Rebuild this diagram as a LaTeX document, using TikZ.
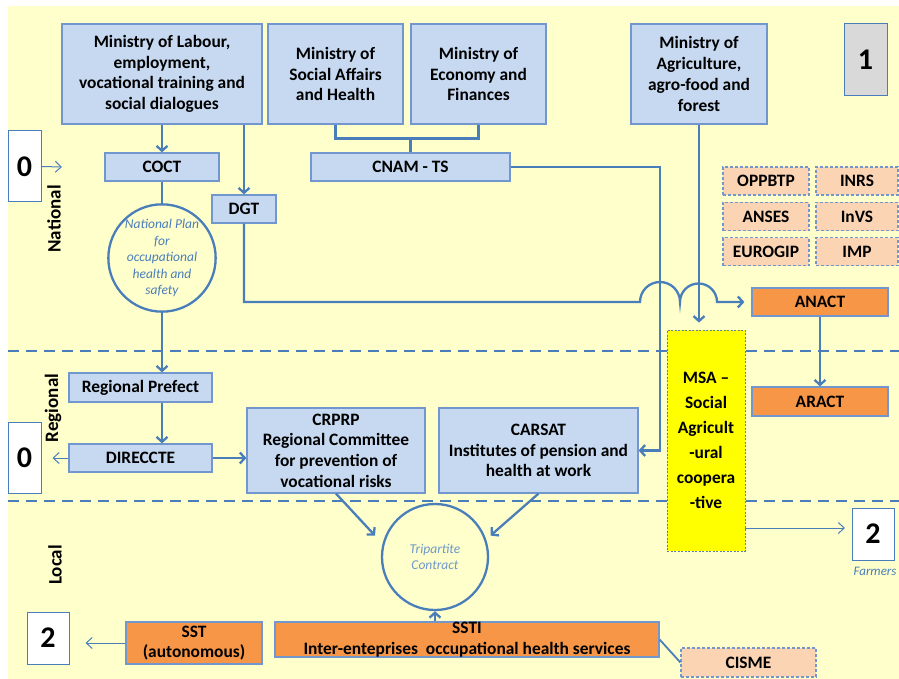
\documentclass[tikz,border=0pt]{standalone}
\usepackage{fontspec}
\setmainfont{Carlito}
\usetikzlibrary{arrows.meta,positioning,calc}
\definecolor{Paper}{HTML}{FFFFCC}
\definecolor{BoxFill}{HTML}{C6D9F1}
\definecolor{BoxLine}{HTML}{7297CF}
\definecolor{Flow}{HTML}{4A7EBB}
\definecolor{Amber}{HTML}{F79646}
\definecolor{Peach}{HTML}{FBD4B4}
\definecolor{Lemon}{HTML}{FFFF00}
\definecolor{Ash}{HTML}{D9D9D9}
\tikzset{
  orgbox/.style={draw=BoxLine, line width=1.2pt, fill=#1, align=center, inner sep=0pt,
    font={\bfseries\fontsize{17.4}{20.7}\selectfont}},
  orgbox/.default={BoxFill},
  tagbox/.style={orgbox=Peach, dash pattern=on 3pt off 2pt},
  numbox/.style={draw=Flow, line width=1pt, fill=#1, inner sep=0pt,
    font={\bfseries\fontsize{30}{30}\selectfont}},
  numbox/.default={white},
  dims/.style 2 args={minimum width=#1pt, minimum height=#2pt},
  flow/.style={-{Straight Barb[length=5pt,width=11pt]}, line width=2.3pt, color=Flow},
  thinflow/.style={-{Straight Barb[length=6pt,width=11pt]}, line width=1pt, color=Flow},
  link/.style={line width=2.3pt, color=Flow},
  sepline/.style={line width=2.6pt, color=Flow, dash pattern=on 11pt off 7pt},
}

\begin{document}
\begin{tikzpicture}[x=1pt, y=-1pt,
  plancircle/.style={circle, draw=Flow, line width=2.3pt, inner sep=0pt, minimum size=#1pt,
    align=center, text=Flow, font={\itshape\fontsize{13.5}{16.5}\selectfont}},
  sidelabel/.style={rotate=90, font={\bfseries\fontsize{19}{20}\selectfont}},
]
  \useasboundingbox (0,0) rectangle (899,679);
  \fill[white] (0,0) rectangle (899,679);
  \fill[Paper] (8,6) rectangle (899,679);
  \draw[sepline] (8,351) -- (899,351);
  \draw[sepline] (8,501) -- (899,501);

  \node[orgbox, dims={200}{100}] (lab) at (162,74) {Ministry of Labour,\\employment,\\vocational training and\\social dialogues};
  \node[orgbox, dims={135}{100}] (soc) at (335.5,74) {Ministry of\\Social Affairs\\and Health};
  \node[orgbox, dims={135}{100}] (eco) at (478.5,74) {Ministry of\\Economy and\\Finances};
  \node[orgbox, dims={136}{100}] (agr) at (699,74) {Ministry of\\Agriculture,\\agro-food and\\forest};
  \node[numbox=Ash, dims={43}{72}] (one) at (865.5,60) {1};

  \node[numbox, dims={33}{71}] (zeroA) at (24.5,166.5) {0};
  \node[orgbox, dims={114}{28}] (coct) at (162,167) {COCT};
  \node[orgbox, dims={199}{28}] (cnam) at (410.5,167) {CNAM - TS};
  \node[orgbox, dims={64}{28}] (dgt) at (244,209) {DGT};
  \node[plancircle=104] (plan) at (162,258) {National Plan\\for\\occupational\\health and\\safety};

  \node[tagbox, dims={86}{28}] (oppbtp) at (766,181) {OPPBTP};
  \node[tagbox, dims={82}{28}] (inrs) at (857,181) {INRS};
  \node[tagbox, dims={86}{28}] (anses) at (766,216.5) {ANSES};
  \node[tagbox, dims={82}{28}] (invs) at (857,216.5) {InVS};
  \node[tagbox, dims={86}{28}] (eurogip) at (766,251.5) {EUROGIP};
  \node[tagbox, dims={82}{28}] (imp) at (857,251.5) {IMP};

  \node[orgbox=Amber, dims={136}{28}] (anact) at (820,302) {ANACT};
  \node[orgbox=Amber, dims={136}{29}] (aract) at (820,401.5) {ARACT};
  \node[orgbox=Lemon, draw=Flow!60!gray, line width=0.8pt, dash pattern=on 2pt off 1.5pt,
    font={\bfseries\fontsize{17.4}{25}\selectfont}, dims={78}{221}] (msa) at (706,440.5)
    {MSA --\\Social\\Agricult\\-ural\\coopera\\-tive};

  \node[orgbox, dims={143}{29}] (pref) at (140.5,387.5) {Regional Prefect};
  \node[orgbox, dims={143}{28}] (dir) at (140.5,458) {DIRECCTE};
  \node[numbox, dims={33}{71}] (zeroB) at (24.5,457.5) {0};
  \node[orgbox, dims={178}{85}] (crprp) at (336,450.5) {CRPRP\\Regional Committee\\for prevention of\\vocational risks};
  \node[orgbox, dims={199}{85}] (carsat) at (538.5,450.5) {CARSAT\\Institutes of pension and\\health at work};

  \node[plancircle=106, text=Flow!80] (tri) at (435,557) {Tripartite\\Contract};
  \node[numbox, dims={42}{52}] (twoR) at (873,534) {2};
  \node[text=Flow, font={\itshape\fontsize{13}{14}\selectfont}] (farmers) at (875,571) {Farmers};
  \node[numbox, dims={42}{52}] (twoL) at (48,638) {2};
  \node[orgbox=Amber, dims={136}{42}] (sst) at (194,643) {SST\\(autonomous)};
  \node[orgbox=Amber, dims={384}{35}] (ssti) at (467,639.5) {SSTI\\Inter-enteprises\ \ occupational health services};
  \node[tagbox, dims={135}{29}] (cisme) at (748.5,662.5) {CISME};

  \node[sidelabel] (natl) at (54,219) {National};
  \node[sidelabel] (regl) at (53,408) {Regional};
  \node[sidelabel] (locl) at (55,565) {Local};

  \coordinate (zeroin) at (62,167);
  \coordinate (cnamx) at (660,0);
  \coordinate (farmin) at (845,528);

  \draw[thinflow] (zeroA.east) -- (zeroin);
  \draw[flow] (lab.south) -- (coct.north);
  \draw[flow] (lab.south -| dgt.north) -- (dgt.north);
  \draw[link] (soc.south) -- ++(0,14) -| (eco.south);
  \draw[link] (cnam.north) -- ++(0,-15);
  \draw[flow] (cnam.east) -| (cnamx |- carsat.east) -- (carsat.east);
  \draw[link] (coct.south) -- (plan.north);
  \draw[flow, shorten >=7pt] (dgt.south) |- (640,302) arc[start angle=180, end angle=360, radius=20]
    -- (680,302) arc[start angle=180, end angle=360, radius=18.5] -- (anact.west);
  \draw[flow, shorten >=7pt] (agr.south) -- (agr.south |- msa.north);
  \draw[flow] (anact.south) -- (aract.north);
  \draw[flow] (plan.south) -- (plan.south |- pref.north);
  \draw[flow] (pref.south -| plan.south) -- (dir.north -| plan.south);
  \draw[flow] (dir.east) -- (dir.east -| crprp.west);
  \draw[thinflow, shorten >=11pt] (dir.west) -- (zeroB.east |- dir.west);
  \draw[thinflow] (msa.east |- farmin) -- (farmin);
  \draw[flow] (crprp.south) -- ++(39,42);
  \draw[flow] (carsat.south) -- ++(-48,42);
  \draw[flow] (ssti.north -| tri.south) -- (tri.south);
  \draw[link, line width=1.8pt] (ssti.east) -- (cisme.west);
  \draw[thinflow, shorten >=16pt] (sst.west) -- (twoL.east |- sst.west);
\end{tikzpicture}
\end{document}
